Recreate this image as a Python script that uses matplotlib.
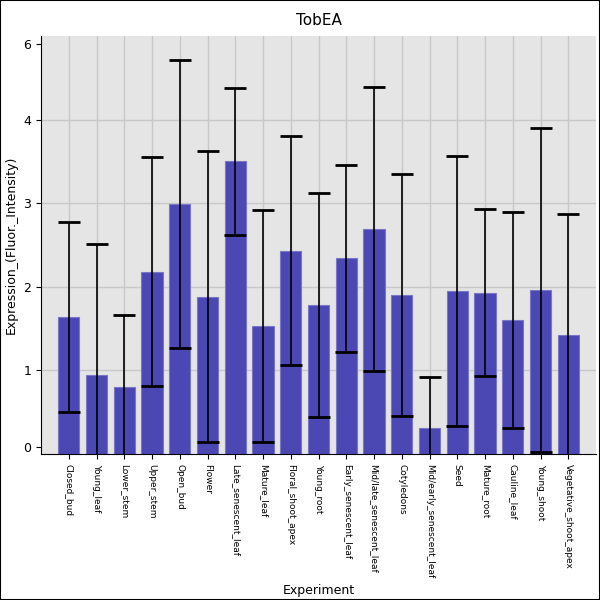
import matplotlib
matplotlib.use("Agg")
import matplotlib.pyplot as plt
from matplotlib.patches import Rectangle

labels = ["Closed_bud", "Young_leaf", "Lower_stem", "Upper_stem", "Open_bud",
          "Flower", "Late_senescent_leaf", "Mature_leaf", "Floral_shoot_apex",
          "Young_root", "Early_senescent_leaf", "Mid/late_senescent_leaf",
          "Cotyledons", "Mid/early_senescent_leaf", "Seed", "Mature_root",
          "Cauline_leaf", "Young_shoot", "Vegetative_shoot_apex"]
means = [1.64, 0.945, 0.80, 2.18, 2.99, 1.88, 3.50, 1.53, 2.43, 1.78,
         2.34, 2.69, 1.90, 0.31, 1.95, 1.93, 1.60, 1.96, 1.42]
errs = [1.14, 1.57, 0.86, 1.37, 1.72, 1.74, 0.88, 1.39, 1.37, 1.34,
        1.12, 1.70, 1.45, 0.61, 1.61, 1.00, 1.29, 1.94, 1.45]

fig = plt.figure(figsize=(6, 6), dpi=100)
ax = fig.add_axes([41/600, 1-454/600, 555/600, 418/600])
ax.set_facecolor("#e5e5e5")
x = list(range(len(labels)))
ax.bar(x, means, width=0.76, color="#4b47b3", edgecolor="#7a76c8", linewidth=0.8, zorder=2)
ax.errorbar(x, means, yerr=errs, fmt="none", ecolor="black", elinewidth=1.2,
            capsize=8, capthick=2, zorder=3)
ax.set_xlim(-1, 19)
ax.set_ylim(0, 5)
ax.set_xticks(x)
ax.set_xticklabels(labels, rotation=270, fontsize=6.5)
ax.set_yticks([0.08, 1, 2, 3, 4, 4.9])
ax.set_yticklabels(["0", "1", "2", "3", "4", "6"], fontsize=9)
ax.grid(True, color="#c8c8c8", linewidth=1, zorder=0)
ax.yaxis.get_gridlines()[0].set_visible(False)
ax.yaxis.get_gridlines()[-1].set_visible(False)
for s in ["top", "right"]:
    ax.spines[s].set_visible(False)
ax.set_title("TobEA", fontsize=11, pad=8)
ax.set_xlabel("Experiment", fontsize=9)
ax.set_ylabel("Expression_(Fluor._Intensity)", fontsize=9)
fig.patches.append(Rectangle((0, 0), 1, 1, transform=fig.transFigure,
                             fill=False, edgecolor="black", linewidth=1.5))
fig.savefig("out.png", dpi=100)
